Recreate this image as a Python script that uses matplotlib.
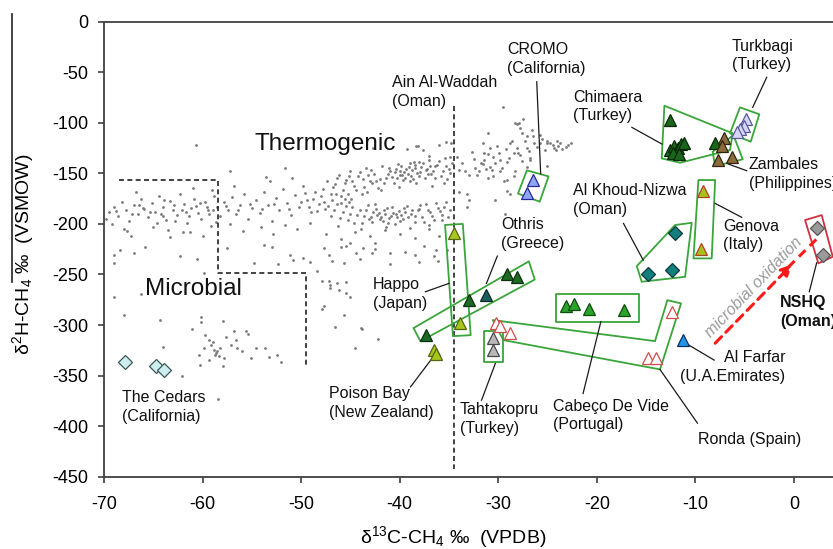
import matplotlib
matplotlib.use('Agg')
import matplotlib.pyplot as plt
from matplotlib.patches import Polygon
from matplotlib.lines import Line2D

plt.rcParams['font.family'] = ['Liberation Sans', 'DejaVu Sans']
plt.rcParams['mathtext.fontset'] = 'custom'
plt.rcParams['mathtext.rm'] = 'Liberation Sans'
plt.rcParams['mathtext.it'] = 'Liberation Sans:italic'
plt.rcParams['mathtext.default'] = 'regular'
plt.rcParams['axes.unicode_minus'] = False

# ---------------- data (d13C-CH4, d2H-CH4) ----------------
x_ticks = [-70, -60, -50, -40, -30, -20, -10, 0]
y_ticks = [0, -50, -100, -150, -200, -250, -300, -350, -400, -450]

# background natural gas compilation (grey dots)
gas_cloud = [
    # left band
    (-69.5,-188),(-69.0,-183),(-68.6,-192),(-68.2,-178),(-67.8,-186),(-67.5,-197),(-67.0,-181),
    (-66.6,-190),(-66.2,-175),(-65.9,-185),(-65.5,-193),(-65.1,-179),(-64.8,-188),(-64.4,-172),
    (-64.0,-183),(-63.7,-196),(-63.3,-177),(-63.0,-186),(-62.6,-191),(-62.3,-170),(-61.9,-180),
    (-61.6,-199),(-61.2,-184),(-60.9,-175),(-60.5,-189),(-60.2,-195),(-59.8,-178),(-59.5,-186),
    (-59.1,-202),(-58.8,-172),(-58.5,-183),(-58.2,-192),(-69.2,-200),(-68.0,-205),(-66.8,-168),
    (-65.0,-203),(-63.5,-206),(-62.0,-208),(-61.0,-164),(-60.0,-212),(-59.0,-166),(-67.3,-212),
    (-64.6,-199),(-62.8,-197),(-61.4,-192),(-60.7,-182),(-59.3,-190),(-58.6,-198),(-66.0,-184),
    (-64.2,-190),(-62.1,-186),(-63.9,-176),(-63.3,-213),(-67.7,-207),(-61.3,-208),(-65.8,-223),
    (-69.8,-195),(-68.8,-187),(-67.2,-190),(-66.4,-181),(-65.3,-188),(-64.0,-192),(-62.9,-181),
    (-61.7,-188),(-60.3,-179),(-59.6,-183),(-58.9,-186),
    # band -58 .. -48
    (-57.8,-178),(-57.4,-186),(-57.0,-173),(-56.6,-190),(-56.2,-181),(-55.8,-170),(-55.4,-195),
    (-55.0,-184),(-54.6,-176),(-54.2,-189),(-53.8,-168),(-53.4,-181),(-53.0,-197),(-52.6,-174),
    (-52.2,-186),(-51.8,-165),(-51.4,-179),(-51.0,-191),(-50.6,-171),(-50.2,-183),(-49.8,-162),
    (-49.4,-176),(-49.0,-188),(-48.6,-168),(-48.2,-180),(-57.2,-200),(-55.9,-207),(-54.1,-203),
    (-52.9,-210),(-51.6,-201),(-50.4,-205),(-49.1,-199),(-56.8,-162),(-53.2,-158),(-50.9,-155),
    (-57.6,-182),(-56.4,-186),(-55.2,-180),(-54.0,-185),(-52.8,-180),(-51.2,-185),(-50.0,-178),
    (-49.6,-169),(-49.2,-183),(-48.8,-175),(-48.4,-187),(-48.0,-172),(-47.7,-178),(-47.3,-182),
    (-46.9,-176),(-46.5,-170),(-46.0,-179),(-45.6,-175),(-45.1,-178),
    # upper lobe -48 .. -34.5
    (-47.8,-165),(-47.4,-158),(-47.0,-170),(-46.6,-161),(-46.2,-152),(-45.8,-166),(-45.4,-157),
    (-45.0,-148),(-44.6,-162),(-44.2,-153),(-43.8,-170),(-43.4,-145),(-43.0,-158),(-42.6,-151),
    (-42.2,-164),(-41.8,-143),(-41.4,-155),(-41.0,-148),(-40.6,-160),(-40.2,-141),(-39.8,-152),
    (-39.4,-146),(-39.0,-158),(-38.6,-139),(-38.2,-150),(-37.8,-144),(-37.4,-155),(-37.0,-137),
    (-36.6,-148),(-36.2,-142),(-35.8,-153),(-35.4,-135),(-35.0,-146),(-34.7,-140),
    (-40.5,-149),(-40.0,-152),(-39.6,-149),(-39.2,-151),(-38.8,-147),(-40.3,-155),(-39.5,-155),
    (-38.9,-153),(-41.2,-151),(-38.5,-145),(-37.9,-149),(-37.2,-146),(-36.8,-151),(-42.0,-156),
    (-42.8,-160),(-43.6,-163),(-44.4,-166),(-45.2,-170),(-46.0,-172),
    (-46.8,-163),(-46.4,-155),(-45.6,-160),(-45.1,-153),(-44.8,-158),(-44.0,-149),(-43.7,-156),
    (-43.2,-152),(-42.9,-147),(-42.4,-158),(-41.6,-160),(-41.1,-145),(-40.8,-154),(-40.4,-146),
    (-39.9,-143),(-39.7,-157),(-39.1,-144),(-38.7,-156),(-38.4,-142),(-38.0,-153),(-37.6,-140),
    (-37.1,-151),(-36.9,-143),(-36.4,-155),(-36.0,-138),(-35.6,-148),(-35.2,-156),(-34.9,-134),
    (-41.9,-166),(-43.3,-168),(-44.9,-175),(-40.1,-163),(-38.3,-160),(-36.7,-162),(-35.5,-160),
    (-39.3,-126),(-38.3,-123),(-37.0,-133),(-36.0,-122),(-35.3,-119),(-34.8,-120),(-36.4,-143),
    (-35.3,-143),(-34.9,-150),(-37.3,-147),(-39.0,-140),(-38.0,-139),(-40.0,-148),(-42.7,-125),
    (-38.1,-123),(-37.6,-127),(-60.7,-122),(-57.2,-148),(-51.6,-145),(-53.6,-154),
    # lower lobe
    (-47.6,-185),(-47.0,-192),(-46.4,-180),(-45.8,-188),(-45.2,-196),(-44.8,-183),(-44.3,-191),
    (-43.8,-199),(-43.4,-186),(-42.9,-193),(-42.5,-180),(-42.1,-189),(-41.7,-197),(-41.3,-184),
    (-40.9,-192),(-40.5,-200),(-40.1,-187),(-39.7,-195),(-39.3,-182),(-38.9,-190),(-38.5,-198),
    (-38.1,-186),(-37.7,-193),(-37.3,-180),(-36.9,-188),(-36.5,-196),(-36.1,-184),(-35.7,-191),
    (-35.3,-178),(-34.9,-186),(-42.3,-191),(-41.9,-193),(-41.5,-190),(-41.1,-194),(-40.7,-189),
    (-42.7,-188),(-43.1,-195),(-40.3,-193),(-39.9,-191),(-39.5,-188),(-38.0,-185),(-35.7,-196),
    (-46.7,-186),(-46.1,-194),(-45.5,-182),(-45.0,-190),(-44.6,-199),(-44.0,-186),(-43.6,-192),
    (-43.2,-181),(-42.8,-198),(-42.4,-185),(-42.0,-195),(-41.6,-186),(-41.2,-199),(-40.8,-183),
    (-40.4,-190),(-40.0,-197),(-39.6,-184),(-39.2,-193),(-38.8,-186),(-38.4,-192),(-37.9,-181),
    (-37.5,-198),(-37.1,-186),(-36.7,-192),(-36.3,-179),(-35.9,-187),(-35.5,-183),(-35.1,-193),
    (-43.9,-205),(-41.4,-203),(-39.0,-204),(-37.0,-201),(-46.3,-202),
    # below the lobes
    (-47.5,-210),(-46.0,-215),(-44.5,-208),(-43.0,-212),(-41.5,-206),(-40.0,-210),(-38.5,-214),
    (-37.0,-205),(-36.0,-212),(-45.5,-222),(-42.5,-225),(-39.5,-228),(-37.5,-222),(-44.0,-235),
    (-41.0,-240),(-38.0,-238),(-36.5,-232),(-35.2,-226),(-41.0,-229),(-36.3,-226),(-36.1,-237),
    (-57.5,-224),(-54.8,-239),(-53.8,-221),(-53.0,-223),(-52.3,-240),(-51.1,-231),(-50.8,-236),
    (-49.8,-234),(-49.1,-238),(-47.7,-224),(-47.2,-231),(-46.9,-237),(-46.0,-223),(-45.7,-239),
    (-45.0,-219),(-44.4,-229),(-43.7,-224),(-42.8,-229),(-42.5,-219),
    (-47.9,-256),(-47.2,-256),(-46.4,-258),(-45.4,-257),(-47.1,-263),(-46.2,-265),(-45.4,-268),
    (-45.0,-272),(-47.9,-284),(-45.7,-290),(-46.6,-302),(-43.8,-304),(-44.5,-323),(-42.2,-314),
    (-48.4,-247),(-47.1,-260),(-47.7,-281),(-43.9,-303),(-38.4,-231),
    # sparse left / microbial region
    (-69.0,-231),(-68.4,-226),(-67.0,-229),(-69.0,-239),(-69.0,-272),(-68.0,-290),(-66.2,-269),
    (-64.3,-295),(-62.3,-232),(-60.6,-235),(-59.9,-249),(-64.0,-322),(-62.1,-350),(-58.4,-373),
    (-61.1,-304),(-60.2,-292),(-60.2,-297),(-57.9,-296),(-59.8,-310),(-59.3,-315),(-58.9,-317),
    (-59.9,-323),(-60.4,-330),(-58.5,-326),(-58.3,-331),(-57.8,-333),(-57.6,-312),(-57.1,-320),
    (-56.6,-315),(-56.5,-323),(-56.0,-326),(-55.6,-306),(-55.4,-309),(-55.1,-333),(-54.6,-323),
    (-53.7,-323),(-53.3,-332),(-52.5,-330),(-52.0,-337),(-60.3,-340),(-59.3,-335),(-57.9,-341),
    (-56.8,-306),(-59.1,-320),(-58.7,-330),(-58.2,-323),(-58.6,-328),(-58.8,-325),
    # right of Ain Al-Waddah line
    (-34.0,-147),(-34.2,-134),(-33.4,-148),(-33.2,-170),(-33.0,-176),(-32.7,-129),(-32.4,-145),
    (-31.6,-141),(-31.6,-120),(-31.0,-110),(-31.0,-155),(-31.0,-131),(-30.6,-147),(-30.5,-134),
    (-30.1,-123),(-29.8,-148),(-29.5,-84),(-29.4,-158),(-29.1,-139),(-28.4,-130),(-28.4,-153),
    (-28.3,-100),(-27.9,-100),(-27.8,-105),(-27.6,-110),(-27.6,-138),(-27.1,-113),(-27.1,-125),
    (-26.8,-137),(-26.4,-120),(-25.8,-120),(-25.1,-118),(-24.3,-125),(-23.9,-123),
    (-27.5,-96),(-28.1,-101),(-26.6,-107),(-25.8,-112),(-25.1,-120),(-24.4,-122),(-23.7,-120),
    (-23.1,-124),(-22.6,-120),(-24.1,-127),(-28.8,-120),(-31.8,-140),(-30.8,-144),(-29.8,-137),
    (-28.0,-130),(-27.1,-144),(-30.5,-153),(-29.1,-157),(-28.3,-148),(-26.8,-135),(-25.1,-143),
    (-28.8,-170),(-30.3,-176),(-33.2,-183),(-34.0,-168),(-32.2,-152),(-31.4,-137),(-29.1,-167),
    (-29.3,-190),
    (-33.7,-140),(-33.0,-152),(-32.5,-136),(-32.0,-148),(-31.5,-130),(-31.2,-146),(-30.8,-125),
    (-30.3,-140),(-29.9,-130),(-29.6,-145),(-29.2,-126),(-28.9,-135),(-28.6,-118),(-28.1,-125),
    (-27.8,-132),(-27.3,-118),(-26.9,-128),(-26.5,-113),(-26.1,-124),(-25.6,-116),(-25.3,-127),
    (-24.8,-120),(-24.0,-118),(-23.5,-126),(-22.9,-122),
]

# site data
cedars_x, cedars_y = [-67.9, -64.7, -63.9], [-337, -341, -344]
cromo_x, cromo_y = [-26.5, -27.1], [-157, -169]
happo_x, happo_y = [-34.5, -33.9], [-209, -298]
poison_x, poison_y = [-36.5, -36.3], [-325, -329]
othris_x, othris_y = [-37.3, -33.0, -31.2, -29.1, -28.1], [-310, -275, -270, -250, -252]
tahta_x, tahta_y = [-30.5, -30.5], [-313, -325]
ronda_x, ronda_y = [-30.2, -29.8, -28.8, -14.8, -14.0, -12.4], [-298, -301, -308, -333, -333, -287]
cabeco_x, cabeco_y = [-23.1, -22.3, -20.8, -17.2], [-281, -279, -284, -285]
farfar_x, farfar_y = [-11.3], [-315]
khoud_x, khoud_y = [-12.1, -14.8, -12.4], [-209, -250, -246]
genova_x, genova_y = [-9.2, -9.4], [-167, -225]
nshq_x, nshq_y = [2.3, 2.9], [-204, -231]
chimaera_x = [-12.6, -12.6, -12.2, -11.8, -11.5, -11.2, -12.3, -11.7, -8.0]
chimaera_y = [-97, -127, -123, -125, -121, -120, -130, -131, -120]
zambales_x, zambales_y = [-7.1, -7.3, -7.7, -6.3], [-115, -123, -137, -134]
turkbagi_x, turkbagi_y = [-4.9, -5.1, -5.5, -5.8], [-96, -103, -106, -109]

# ---------------- figure ----------------
fig = plt.figure(figsize=(8.33, 5.49), dpi=100)
ax = fig.add_axes([104/833, (549-476.7)/549, (843.3-104)/833, (476.7-21.7)/549])
ax.set_xlim(-70, 5)
ax.set_ylim(-450, 0)
ax.set_xticks(x_ticks)
ax.set_yticks(y_ticks)
spc = '#404040'
for s in ['left', 'bottom', 'top']:
    ax.spines[s].set_color(spc)
    ax.spines[s].set_linewidth(1.3)
ax.spines['right'].set_visible(False)
ax.tick_params(direction='out', length=4, width=1.2, color=spc, labelsize=13)
ax.tick_params(axis='x', pad=10)
ax.tick_params(axis='y', pad=7)

ax.set_xlabel('δ$^{13}$C-CH$_4$ ‰  (VPDB)', fontsize=14)
ax.set_ylabel('δ$^{2}$H-CH$_4$ ‰  (VSMOW)', fontsize=14)
ax.xaxis.set_label_coords(0.472, -0.105)
ax.yaxis.set_label_coords(-0.092, 0.49)

gx = [p[0] for p in gas_cloud]
gy = [p[1] for p in gas_cloud]
ax.scatter(gx, gy, s=4, c='#7a7a7a', linewidths=0, zorder=1)

# boundaries
ax.plot([-68.5, -58.4, -58.4, -49.5, -49.5], [-157, -157, -249, -249, -342],
        ls=(0, (3, 2)), color='#222222', lw=1.2, zorder=2)
ax.plot([-34.5, -34.5], [-83, -442], ls=(0, (3, 2)), color='#222222', lw=1.2, zorder=2)

# site outlines
green = '#3aa53a'
outlines = [
    [(-28.0, -170), (-27.1, -147), (-24.9, -153), (-25.8, -178)],
    [(-35.4, -201), (-33.6, -200), (-32.8, -310), (-34.6, -311)],
    [(-38.6, -303), (-37.9, -316), (-26.3, -255), (-26.9, -237)],
    [(-31.44, -305.7), (-29.48, -305.7), (-29.48, -336.4), (-31.44, -336.4)],
    [(-24.1, -269.4), (-15.7, -269.4), (-15.7, -296.8), (-24.1, -296.8)],
    [(-30.56, -295.1), (-14.1, -315.9), (-12.85, -275.4), (-11.46, -278.6), (-13.59, -343.9), (-29.48, -314.9)],
    [(-15.45, -257.2), (-15.95, -241.7), (-12.07, -201.1), (-10.38, -198.9), (-11.05, -252.3)],
    [(-9.7, -156.6), (-8.0, -156.6), (-8.35, -234.1), (-10.2, -234.1)],
    [(-13.15, -83.1), (-6.22, -110.4), (-6.49, -126.9), (-11.56, -139.5), (-13.42, -135.2)],
    [(-8.25, -128.6), (-6.15, -112.1), (-5.2, -136.1), (-8.01, -142.8)],
    [(-6.49, -110.4), (-5.48, -84.7), (-3.52, -91.6), (-4.39, -118.7)],
]
for pts in outlines:
    ax.add_patch(Polygon(pts, closed=True, fill=False, ec=green, lw=1.3, joinstyle='round', zorder=3))
ax.add_patch(Polygon([(1.12, -196.2), (2.81, -191.3), (3.93, -232.5), (2.47, -239)], closed=True,
                     fill=False, ec='#d03040', lw=1.3, joinstyle='round', zorder=3))

# microbial oxidation arrow
ax.plot([-0.6, 2.6], [-243, -212], ls=(0, (3, 2)), color='#ff1a1a', lw=2.2, zorder=3)
ax.annotate('', xy=(-0.2, -240), xytext=(-8.0, -318),
            arrowprops=dict(arrowstyle='-|>', color='#ff1a1a', lw=2.2, ls=(0, (3, 2)),
                            mutation_scale=16, shrinkA=0, shrinkB=0), zorder=3)
ax.text(-4.1, -262.5, 'microbial oxidation', rotation=46, ha='center', va='center',
        fontsize=11.5, style='italic', color='#9a9a9a', zorder=3)

# markers
def mk(x, y, marker, fc, ec, ms=8.5, mew=0.9):
    ax.plot(x, y, ls='none', marker=marker, ms=ms, mfc=fc, mec=ec, mew=mew, zorder=4)

mk(cedars_x, cedars_y, 'D', '#cdeeee', '#3b5757', ms=7.5)
mk(cromo_x, cromo_y, '^', '#8fa6f2', '#28289a')
mk(happo_x, happo_y, '^', '#a6c71c', '#56660e')
mk(poison_x, poison_y, '^', '#a6c71c', '#56660e')
mk(othris_x[:2] + othris_x[3:], othris_y[:2] + othris_y[3:], '^', '#1d6a24', '#0c300c')
mk(othris_x[2:3], othris_y[2:3], '^', '#1c5e5a', '#0c2a2a')
mk(tahta_x, tahta_y, '^', '#b9b9b9', '#4a4a4a')
mk(ronda_x, ronda_y, '^', 'white', '#d24c4c')
mk(cabeco_x, cabeco_y, '^', '#2aa32a', '#0c4d0c')
mk(farfar_x, farfar_y, '^', '#1f96e6', '#0a2f60')
mk(khoud_x, khoud_y, 'D', '#147d7d', '#0a3a3a', ms=7.5)
mk(genova_x, genova_y, '^', '#a6c21c', '#b4401e')
mk(nshq_x, nshq_y, 'D', '#9a9a9a', '#555555', ms=7.5)
mk(chimaera_x, chimaera_y, '^', '#1a661c', '#082808')
mk(zambales_x, zambales_y, '^', '#8b6b3c', '#33240e')
mk(turkbagi_x, turkbagi_y, '^', '#d6d6f4', '#5a5a9a')

# leader lines
leaders = [
    ((-26.1, -59.4), (-25.7, -150.6)),
    ((-16.45, -104.5), (-13.4, -121)),
    ((-2.77, -55), (-4.19, -84.7)),
    ((-4.8, -147.4), (-6.66, -140.8)),
    ((-17.3, -199.5), (-15.3, -235.8)),
    ((-5.3, -193.5), (-8.0, -179.7)),
    ((1.55, -267.1), (2.3, -238.4)),
    ((-8.1, -334.7), (-10.95, -318.2)),
    ((-21.4, -367.7), (-19.6, -296.8)),
    ((-13.6, -343.9), (-9.8, -397)),
    ((-31.7, -374.3), (-30.3, -338)),
    ((-37.4, -267.1), (-35.0, -258.8)),
    ((-31.2, -258.8), (-30.1, -231.8)),
    ((-38.9, -361.1), (-36.6, -331.5)),
]
for (a, b) in leaders:
    ax.plot([a[0], b[0]], [a[1], b[1]], color='#1a1a1a', lw=0.9, zorder=3)

# labels
fs = 11.5
lab = dict(fontsize=fs, ha='left', va='top', linespacing=1.3, color='#111111', zorder=5)
ax.text(-29.1, -20.1, 'CROMO\n(California)', **lab)
ax.text(-40.8, -52.7, 'Ain Al-Waddah\n(Oman)', **lab)
ax.text(-22.4, -67.3, 'Chimaera\n(Turkey)', **lab)
ax.text(-6.3, -16.8, 'Turkbagi\n(Turkey)', **lab)
ax.text(-4.6, -133.9, 'Zambales\n(Philippines)', **lab)
ax.text(-22.4, -159.6, 'Al Khoud-Nizwa\n(Oman)', **lab)
ax.text(-7.2, -194.9, 'Genova\n(Italy)', **lab)
ax.text(-1.4, -270.7, 'NSHQ\n(Oman)', fontweight='bold', **lab)
ax.text(-0.9, -325.1, 'Al Farfar\n(U.A.Emirates)', fontsize=fs, ha='right', va='top',
        linespacing=1.3, color='#111111', zorder=5)
ax.text(-9.7, -406, 'Ronda (Spain)', **lab)
ax.text(-24.5, -373, 'Cabeço De Vide\n(Portugal)', **lab)
ax.text(-33.9, -376.3, 'Tahtakopru\n(Turkey)', **lab)
ax.text(-47.2, -360.7, 'Poison Bay\n(New Zealand)', **lab)
ax.text(-68.2, -364.7, 'The Cedars\n(California)', **lab)
ax.text(-42.7, -252.6, 'Happo\n(Japan)', **lab)
ax.text(-29.7, -193.2, 'Othris\n(Greece)', **lab)
ax.text(-54.7, -109.9, 'Thermogenic', fontsize=17.5, ha='left', va='top', color='#111111', zorder=5)
ax.text(-65.8, -253.8, 'Microbial', fontsize=17.5, ha='left', va='top', color='#111111', zorder=5)

# stray vertical rule at the left edge of the image
fig.add_artist(Line2D([12/833, 12/833], [1 - 14/549, 1 - 282/549], color='#222222', lw=1.2))

fig.savefig('out.png', dpi=100)
